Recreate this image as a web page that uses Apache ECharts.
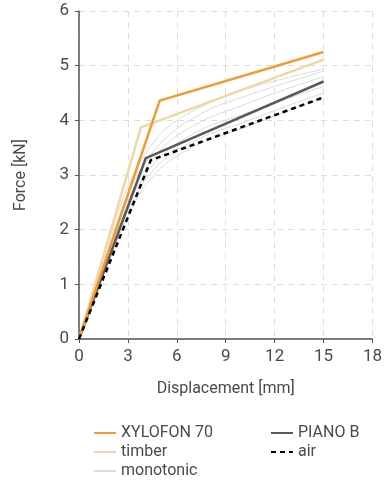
<!DOCTYPE html>
<html>
<head>
<meta charset="utf-8">
<script src="https://cdn.jsdelivr.net/npm/echarts@6/dist/echarts.min.js"></script>
<style>
  html, body { margin: 0; padding: 0; background: #fff; }
  #chart { width: 385px; height: 486px; }
</style>
</head>
<body>
<div id="chart"></div>
<script>
// force-displacement curves, [mm, kN]
const xylofon = [[0, 0], [4.95, 4.36], [15, 5.25]];
const timber = [[0, 0], [3.8, 3.87], [15, 5.11]];
const pianoB = [[0, 0], [4.1, 3.31], [15, 4.71]];
const air = [[0, 0], [4.4, 3.27], [15, 4.42]];

const monoX = [0, 1, 2, 3, 4, 5, 6, 8, 10, 12, 15];
const monoY = [
  [0, 1.02, 1.98, 2.8, 3.35, 3.75, 4.0, 4.32, 4.55, 4.72, 4.94],
  [0, 0.97, 1.88, 2.65, 3.2, 3.58, 3.85, 4.2, 4.42, 4.62, 4.9],
  [0, 0.92, 1.8, 2.55, 3.08, 3.45, 3.72, 4.05, 4.27, 4.5, 4.8],
  [0, 0.88, 1.72, 2.45, 2.98, 3.33, 3.58, 3.9, 4.1, 4.32, 4.62],
  [0, 0.84, 1.65, 2.35, 2.88, 3.22, 3.45, 3.75, 3.95, 4.18, 4.5],
  [0, 0.8, 1.58, 2.25, 2.78, 3.12, 3.35, 3.65, 3.85, 4.08, 4.42]
];

const xTicks = [0, 3, 6, 9, 12, 15, 18];
const yTicks = [0, 1, 2, 3, 4, 5, 6];

const chart = echarts.init(document.getElementById('chart'));
const font = 'Roboto';
const textColor = '#4a4a4a';

const monoSeries = monoY.map(ys => ({
  name: 'monotonic',
  type: 'line',
  data: monoX.map((x, i) => [x, ys[i]]),
  smooth: 0.3,
  symbol: 'none',
  lineStyle: { color: '#dadada', width: 1 },
  itemStyle: { color: '#dadada' },
  z: 1
}));

const legendBase = {
  orient: 'vertical',
  top: 420,
  height: 66,
  itemWidth: 22,
  itemHeight: 10,
  itemGap: 3,
  itemStyle: { opacity: 0 },
  textStyle: { color: textColor, fontSize: 16, fontFamily: font }
};

chart.setOption({
  animation: false,
  grid: { left: 79, right: 6, top: 11, bottom: 147 },
  legend: [
    Object.assign({ data: ['XYLOFON 70', 'timber', 'monotonic'], left: 88 }, legendBase),
    Object.assign({ data: ['PIANO B', 'air'], left: 265 }, legendBase)
  ],
  xAxis: {
    type: 'value',
    min: xTicks[0],
    max: xTicks[xTicks.length - 1],
    interval: 3,
    name: 'Displacement [mm]',
    nameLocation: 'middle',
    nameGap: 42,
    nameTextStyle: { color: textColor, fontSize: 16, fontFamily: font },
    axisLine: { lineStyle: { color: '#555', width: 1.5 } },
    axisTick: { show: true, length: 4, lineStyle: { color: '#555' } },
    axisLabel: { color: textColor, fontSize: 17, fontFamily: font, margin: 9 },
    splitLine: { show: true, lineStyle: { color: '#ddd', type: [6, 5], width: 1 } }
  },
  yAxis: {
    type: 'value',
    min: yTicks[0],
    max: yTicks[yTicks.length - 1],
    interval: 1,
    name: 'Force [kN]',
    nameLocation: 'middle',
    nameGap: 50,
    nameTextStyle: { color: textColor, fontSize: 16, fontFamily: font },
    axisLine: { show: true, lineStyle: { color: '#555', width: 1.5 } },
    axisTick: { show: true, length: 4, lineStyle: { color: '#555' } },
    axisLabel: { color: textColor, fontSize: 17, fontFamily: font, margin: 10 },
    splitLine: { show: true, lineStyle: { color: '#ddd', type: [6, 5], width: 1 } }
  },
  series: [
    ...monoSeries,
    {
      name: 'timber', type: 'line', data: timber, symbol: 'none', z: 3,
      lineStyle: { color: '#f1d6a6', width: 2.5 }, itemStyle: { color: '#f1d6a6' }
    },
    {
      name: 'XYLOFON 70', type: 'line', data: xylofon, symbol: 'none', z: 4,
      lineStyle: { color: '#f39a30', width: 2.5 }, itemStyle: { color: '#f39a30' }
    },
    {
      name: 'PIANO B', type: 'line', data: pianoB, symbol: 'none', z: 3,
      lineStyle: { color: '#5a5a5a', width: 2.5 }, itemStyle: { color: '#5a5a5a' }
    },
    {
      name: 'air', type: 'line', data: air, symbol: 'none', z: 5,
      lineStyle: { color: '#000', width: 2.5, type: [5, 4] }, itemStyle: { color: '#000' }
    }
  ]
});
</script>
</body>
</html>
